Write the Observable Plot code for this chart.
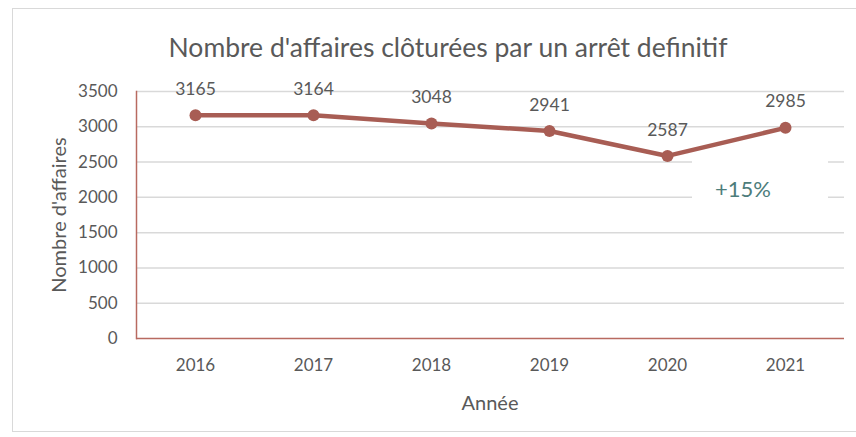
<!DOCTYPE html>
<html><head><meta charset="utf-8">
<script src="https://cdn.jsdelivr.net/npm/d3@7"></script>
<script src="https://cdn.jsdelivr.net/npm/@observablehq/plot@0.6"></script>
<style>
body{margin:0;background:#fff;font-family:Lato,"Open Sans",sans-serif;}
#wrap{position:relative;width:856px;height:437px;overflow:hidden;}
#border{position:absolute;left:12px;top:8px;width:850px;height:424px;border:1.5px solid #d9d9d9;box-sizing:border-box;}
.lbl{position:absolute;color:#595959;white-space:nowrap;}
#title{left:448px;top:47px;font-size:26.5px;transform:translate(-50%,-50%);}
#ylab{left:58px;top:215px;font-size:20px;transform:translate(-50%,-50%) rotate(-90deg);}
#xlab{left:490px;top:402px;font-size:20px;transform:translate(-50%,-50%);}
#box{position:absolute;left:692px;top:159px;width:136px;height:55px;background:#fff;}
#pct{position:absolute;left:743px;top:188px;transform:translate(-50%,-50%);font-size:22px;color:#4d7d7b;}
#chart{position:absolute;left:0;top:0;}
</style></head>
<body>
<div id="wrap">
<div id="border"></div>
<div id="chart"></div>
<div class="lbl" id="title">Nombre d'affaires clôturées par un arrêt definitif</div>
<div class="lbl" id="ylab">Nombre d'affaires</div>
<div class="lbl" id="xlab">Année</div>
<div id="box"></div>
<div id="pct">+15%</div>
</div>
<script>
const years = ["2016","2017","2018","2019","2020","2021"];
const values = [3165, 3164, 3048, 2941, 2587, 2985];
const yTicks = [0,500,1000,1500,2000,2500,3000,3500];
const data = years.map((y,i)=>({year:y, value:values[i]}));
const lineColor = "#a85d54";
const axisColor = "#b86a60";
const plot = Plot.plot({
  width: 856, height: 437,
  marginLeft: 136, marginRight: 12, marginTop: 91, marginBottom: 99,
  style: {fontFamily: "Lato, 'Open Sans', sans-serif", background: "transparent"},
  x: {type: "point", domain: years, padding: 0.5, label: null},
  y: {domain: [0, 3500], label: null},
  marks: [
    Plot.ruleY(yTicks.slice(1), {stroke: "#d9d9d9", strokeWidth: 1.5}),
    Plot.axisY({ticks: yTicks, tickFormat: d => String(d), tickSize: 0, tickPadding: 19, fontSize: 17, fill: "#595959", label: null}),
    Plot.axisX({tickSize: 0, tickPadding: 20, fontSize: 17, fill: "#595959", label: null}),
    Plot.ruleY([0], {stroke: axisColor, strokeWidth: 1.5}),
    Plot.frame({anchor: "left", stroke: axisColor, strokeWidth: 1.5}),
    Plot.line(data, {x: "year", y: "value", stroke: lineColor, strokeWidth: 4.5}),
    Plot.dot(data, {x: "year", y: "value", fill: lineColor, r: 6}),
    Plot.text(data, {x: "year", y: "value", text: d => String(d.value), dy: -26, fontSize: 17.5, fill: "#595959"})
  ]
});
document.getElementById("chart").appendChild(plot);
</script>
</body></html>
